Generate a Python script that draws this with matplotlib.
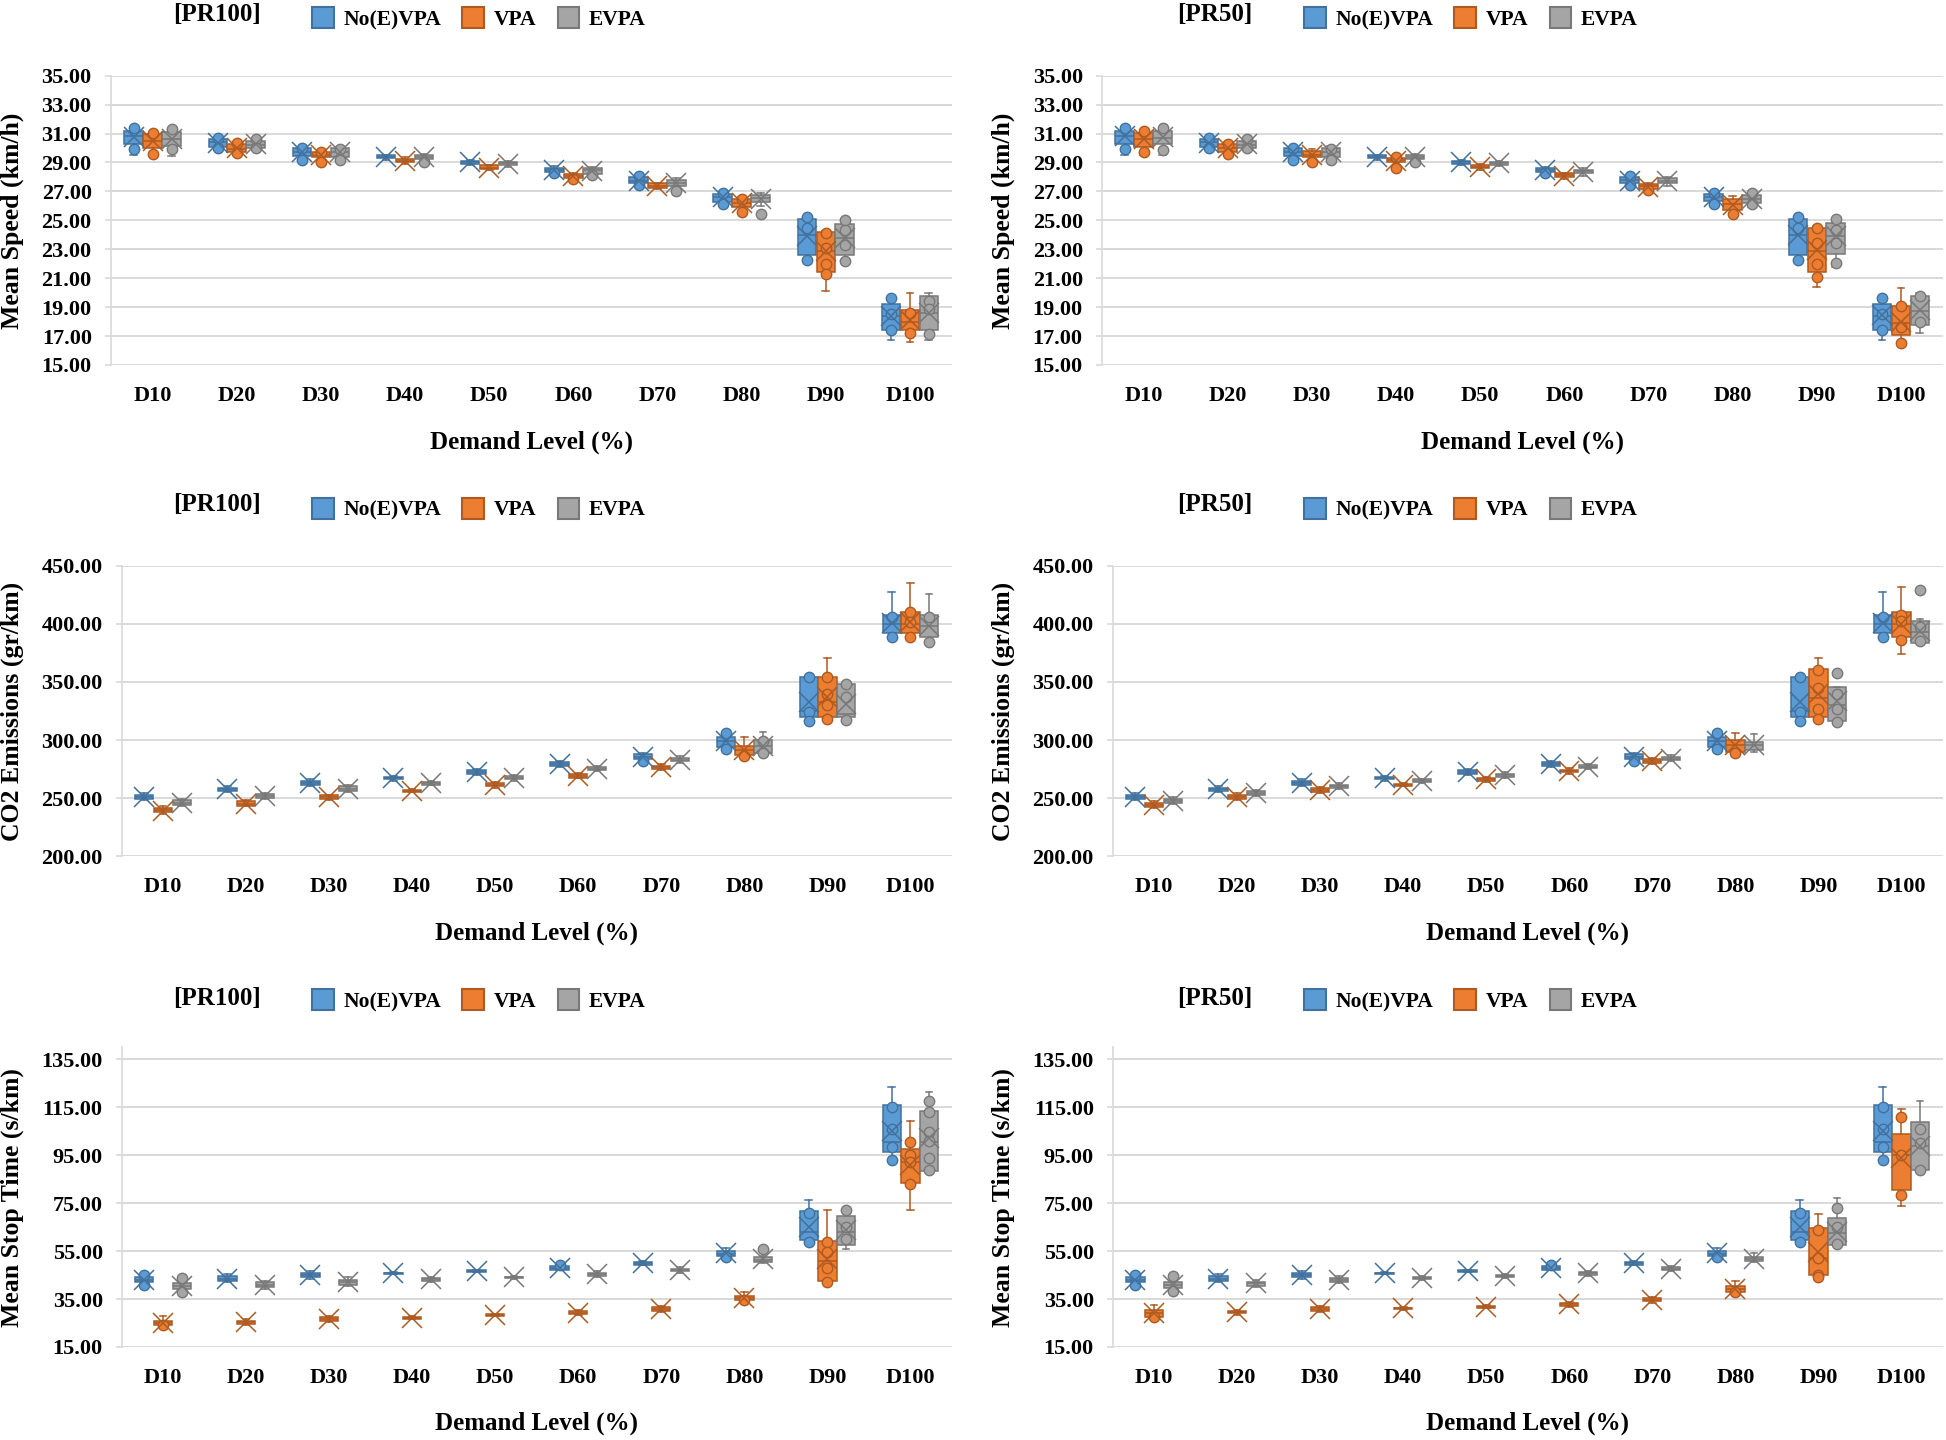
import matplotlib
matplotlib.use("Agg")
import matplotlib.pyplot as plt
from matplotlib.patches import Patch
from matplotlib.ticker import FormatStrFormatter

plt.rcParams['font.family'] = ['Liberation Serif', 'DejaVu Serif']
plt.rcParams['font.weight'] = 'bold'

CATEGORIES = ["D10", "D20", "D30", "D40", "D50", "D60", "D70", "D80", "D90", "D100"]
SERIES = ["No(E)VPA", "VPA", "EVPA"]
FILL = ["#5B9BD5", "#ED7D31", "#A5A5A5"]
EDGE = ["#41719C", "#AE5A21", "#787878"]

# box statistics per category: (whisker low, Q1, median, Q3, whisker high, mean)
SPEED_PR100_NOEVPA = [(29.55, 30.25, 30.8, 31.2, 31.45, 30.75), (29.95, 30.1, 30.4, 30.6, 30.75, 30.35),
                      (29.2, 29.45, 29.75, 30.0, 30.1, 29.7), (29.2, 29.3, 29.4, 29.5, 29.55, 29.4),
                      (28.85, 28.9, 29.0, 29.1, 29.15, 29.0), (28.25, 28.35, 28.5, 28.65, 28.75, 28.45),
                      (27.3, 27.55, 27.75, 28.0, 28.15, 27.75), (26.0, 26.3, 26.6, 26.85, 26.95, 26.6),
                      (22.2, 22.6, 24.0, 25.1, 25.25, 23.95), (16.7, 17.45, 18.4, 19.25, 19.7, 18.4)]
SPEED_PR100_VPA = [(29.5, 30.0, 30.5, 30.95, 31.05, 30.5), (29.55, 29.75, 29.95, 30.3, 30.4, 30.0),
                   (29.0, 29.35, 29.5, 29.75, 29.85, 29.5), (28.9, 29.0, 29.1, 29.25, 29.35, 29.1),
                   (28.5, 28.55, 28.65, 28.8, 28.85, 28.65), (27.75, 27.95, 28.05, 28.2, 28.3, 28.05),
                   (27.15, 27.25, 27.4, 27.55, 27.6, 27.4), (25.55, 25.9, 26.2, 26.5, 26.6, 26.2),
                   (20.1, 21.4, 22.9, 24.2, 24.25, 22.85), (16.6, 17.4, 18.0, 18.8, 20.0, 18.1)]
SPEED_PR100_EVPA = [(29.48, 30.17, 30.6, 31.13, 31.35, 30.65), (29.9, 30.0, 30.2, 30.5, 30.7, 30.3),
                    (29.15, 29.35, 29.7, 30.0, 30.1, 29.7), (28.95, 29.25, 29.35, 29.5, 29.6, 29.35),
                    (28.7, 28.8, 28.95, 29.05, 29.1, 28.9), (28.0, 28.2, 28.45, 28.6, 28.7, 28.4),
                    (27.0, 27.4, 27.6, 27.8, 27.9, 27.55), (26.0, 26.3, 26.55, 26.75, 26.9, 26.45),
                    (22.2, 22.6, 23.8, 24.75, 25.0, 23.8), (16.7, 17.4, 18.6, 19.75, 19.95, 18.6)]

SPEED_PR50_NOEVPA = [(29.55, 30.25, 30.8, 31.2, 31.45, 30.8), (29.95, 30.1, 30.4, 30.6, 30.75, 30.35),
                     (29.2, 29.45, 29.75, 30.0, 30.1, 29.7), (29.2, 29.3, 29.4, 29.5, 29.55, 29.4),
                     (28.85, 28.9, 29.0, 29.1, 29.15, 29.0), (28.3, 28.35, 28.5, 28.6, 28.7, 28.5),
                     (27.4, 27.55, 27.8, 28.0, 28.15, 27.75), (26.0, 26.35, 26.6, 26.85, 26.95, 26.6),
                     (22.2, 22.6, 24.0, 25.1, 25.25, 24.0), (16.7, 17.45, 18.4, 19.25, 19.7, 18.45)]
SPEED_PR50_VPA = [(29.5, 30.05, 30.6, 31.05, 31.15, 30.6), (29.55, 29.7, 30.0, 30.3, 30.45, 30.0),
                  (29.0, 29.35, 29.5, 29.8, 29.9, 29.5), (28.6, 29.0, 29.15, 29.3, 29.4, 29.1),
                  (28.5, 28.6, 28.7, 28.8, 28.9, 28.7), (27.85, 28.0, 28.15, 28.25, 28.3, 28.1),
                  (27.05, 27.2, 27.35, 27.5, 27.6, 27.3), (25.45, 25.75, 26.1, 26.45, 26.7, 26.05),
                  (20.4, 21.45, 22.9, 24.5, 24.6, 22.95), (16.5, 17.1, 17.9, 19.1, 20.3, 18.0)]
SPEED_PR50_EVPA = [(29.5, 30.25, 30.7, 31.15, 31.35, 30.75), (29.9, 30.0, 30.2, 30.5, 30.7, 30.3),
                   (29.15, 29.4, 29.75, 30.0, 30.15, 29.7), (28.95, 29.25, 29.35, 29.5, 29.6, 29.35),
                   (28.75, 28.85, 28.95, 29.05, 29.1, 28.95), (28.1, 28.25, 28.4, 28.5, 28.6, 28.35),
                   (27.35, 27.55, 27.7, 27.9, 28.0, 27.7), (25.95, 26.2, 26.5, 26.75, 26.95, 26.5),
                   (21.75, 22.7, 23.9, 24.85, 25.1, 23.9), (17.2, 17.75, 18.7, 19.75, 19.95, 18.8)]

CO2_PR100_NOEVPA = [(248, 249, 251, 253, 254, 251), (255, 256, 257.5, 259, 260, 257.5),
                    (260, 261, 263, 265, 266, 263), (265, 266, 267, 268.5, 269, 267),
                    (270, 271, 272.5, 274, 275, 272.5), (277, 278, 279, 281, 282, 279),
                    (282, 283.5, 285.5, 287.5, 288.5, 285.5), (292, 294, 299, 303, 306, 299),
                    (316, 320, 325, 354.5, 355, 333), (388, 392.5, 400, 408, 428, 401)]
CO2_PR100_VPA = [(236, 237.5, 239.5, 241.5, 243, 239), (243, 243.5, 245, 247, 248, 245),
                 (248, 249, 251, 252.5, 253, 250.5), (255, 255.5, 256, 257, 257.5, 256),
                 (259, 260, 261, 263, 264, 261.5), (267, 267.5, 269, 270.5, 271.5, 269),
                 (274, 275, 276.5, 278, 279, 276.5), (285, 287, 291, 295, 302.5, 291.5),
                 (318, 320, 333, 354, 371, 337), (388, 392.5, 400, 410.5, 435.5, 402)]
CO2_PR100_EVPA = [(243, 244, 246, 248, 249, 246), (249, 250, 252, 253.5, 254, 252),
                  (255, 256, 258, 260, 261, 258), (261, 261.5, 262.5, 264, 264.5, 262.5),
                  (265, 266, 267.5, 269, 270, 267.5), (273, 274, 275, 276.5, 277.5, 275),
                  (280, 281.5, 283, 284.5, 286, 283), (288, 289, 295, 300, 307, 295),
                  (316, 320, 322, 348.5, 349, 331), (384, 388.5, 398, 408, 426, 398)]

CO2_PR50_NOEVPA = [(248, 249, 251, 253, 254, 251), (255, 256, 257.5, 259, 260, 257.5),
                   (260, 261, 263, 265, 266, 263), (265, 266, 267, 268.5, 269, 267),
                   (270, 271, 272.5, 274, 275, 272.5), (277, 278, 279, 281, 282, 279),
                   (282, 283.5, 285.5, 287.5, 288.5, 285.5), (292, 294, 299, 303, 306, 299),
                   (316, 320, 325, 354.5, 355, 333), (388, 392.5, 400, 408, 428, 401)]
CO2_PR50_VPA = [(241, 242, 244, 246, 247, 244), (248, 249, 251, 253, 254, 251),
                (254, 255, 257, 258.5, 259.5, 257), (260, 260.5, 261, 262, 262.5, 261),
                (264, 265, 266, 267.5, 268.5, 266), (271, 272, 273, 274.5, 275.5, 273),
                (279.5, 280.5, 282, 283.5, 284.5, 282), (288, 290, 295.5, 300, 306, 295.5),
                (318, 320, 336, 361.5, 371, 340), (374, 388.5, 400, 410.5, 432, 400)]
CO2_PR50_EVPA = [(245, 246, 247.5, 249.5, 250.5, 247.5), (252, 253, 254.5, 256, 257, 254.5),
                 (257.5, 258.5, 260, 261.5, 262.5, 260), (263, 263.5, 264.5, 266, 266.5, 264.5),
                 (267.5, 268.5, 269.5, 271, 272, 269.5), (275, 275.5, 277, 278.5, 279.5, 277),
                 (281.5, 282.5, 284, 285.5, 287, 284), (290, 291, 296, 298, 305, 296),
                 (314, 316, 330, 345.8, 346, 334), (383, 384, 393, 402.5, 404, 394)]

STOP_PR100_NOEVPA = [(40.5, 42, 43, 44, 45.5, 43), (42, 42.5, 43.5, 44.5, 45.5, 43.5),
                     (43.5, 44, 45, 46, 46.5, 45), (45.3, 45.5, 45.7, 46, 46.2, 45.8),
                     (46.2, 46.4, 46.7, 47, 47.3, 46.7), (47, 47.3, 48, 48.6, 49.5, 48.1),
                     (49, 49.3, 49.9, 50.5, 51, 49.9), (52.5, 53, 53.8, 55, 56.2, 54),
                     (58.5, 59.5, 63, 71.7, 76.5, 65), (93, 96.5, 100.5, 116, 123.3, 105)]
STOP_PR100_VPA = [(23, 24, 25, 26, 28, 25), (24, 24.5, 25.3, 26, 26.5, 25.3),
                  (25.5, 26, 26.7, 27.5, 28, 26.7), (26.5, 26.8, 27.2, 27.6, 28, 27.2),
                  (27.8, 28, 28.3, 28.6, 28.9, 28.3), (28.3, 28.7, 29.3, 29.9, 30.3, 29.3),
                  (29.8, 30.2, 30.8, 31.5, 32, 30.8), (34, 34.5, 35.3, 36.3, 38, 35.5),
                  (42, 42.5, 51, 59.2, 72, 51.5), (72, 83.5, 92, 97.5, 109.3, 91)]
STOP_PR100_EVPA = [(37.5, 39, 40.5, 41.5, 43.5, 40.5), (39, 40, 41, 42, 42.5, 41),
                   (40.5, 41, 42, 43, 44, 42.2), (42.3, 42.7, 43.2, 43.7, 44, 43.2),
                   (43.3, 43.6, 44, 44.4, 44.7, 44), (44.3, 44.7, 45.3, 46, 46.5, 45.3),
                   (46, 46.5, 47.1, 47.7, 48.2, 47.1), (50, 50.5, 51.3, 52.5, 53, 51.5),
                   (56, 57.5, 63, 69.8, 72.2, 64), (88, 88.5, 100.5, 113.6, 121.5, 102)]

STOP_PR50_NOEVPA = [(40.5, 42, 43, 44, 45.5, 43), (42, 42.5, 43.5, 44.5, 45.5, 43.5),
                    (43.5, 44, 45, 46, 46.5, 45), (45.3, 45.5, 45.7, 46, 46.2, 45.8),
                    (46.2, 46.4, 46.7, 47, 47.3, 46.7), (47, 47.3, 48, 48.6, 49.5, 48.1),
                    (49, 49.3, 49.9, 50.5, 51, 49.9), (52.5, 53, 53.8, 55, 56.2, 54),
                    (58.5, 59.5, 63, 71.7, 76.5, 65), (93, 96.5, 100.5, 116, 123.3, 105)]
STOP_PR50_VPA = [(27, 27.5, 29, 30.3, 32.5, 29), (28.5, 29, 29.4, 30, 30.5, 29.4),
                 (29.7, 30.2, 30.7, 31.5, 32, 30.7), (30.6, 30.8, 31.1, 31.4, 31.7, 31.1),
                 (31.2, 31.4, 31.8, 32.2, 32.5, 31.8), (31.8, 32.2, 32.8, 33.4, 33.9, 32.8),
                 (33.5, 34, 34.6, 35.3, 36, 34.6), (37.5, 37.8, 39, 40.5, 42.5, 39.2),
                 (44, 45, 52, 64.5, 70.5, 54.5), (73.8, 80.5, 95, 103.7, 114.3, 94)]
STOP_PR50_EVPA = [(38.5, 39.5, 41, 42, 45, 41), (40, 40.5, 41.5, 42.3, 43, 41.5),
                  (41.5, 42, 42.9, 43.8, 44.5, 42.9), (43, 43.4, 43.9, 44.3, 44.6, 43.9),
                  (43.8, 44.1, 44.6, 45.1, 45.4, 44.6), (44.8, 45.1, 45.7, 46.3, 46.8, 45.7),
                  (46.5, 47, 47.5, 48.2, 48.7, 47.5), (50.3, 50.8, 51.6, 52.5, 54, 51.7),
                  (57, 57.5, 62.5, 68.7, 77, 63), (88, 88.8, 99, 109, 117.6, 99)]

# visible data points (inner points / outliers) per category
SPEED_PR100_PTS = [
    [[31.4, 29.9], [30.7, 30.0], [30.0, 29.2], [], [], [28.3], [28.1, 27.45], [26.9, 26.1], [25.2, 24.5, 22.25], [19.65, 18.5, 17.4]],
    [[31.05, 29.6], [30.35, 29.65], [29.7, 29.05], [], [], [27.85], [], [26.5, 25.6], [24.1, 23.1, 22.0, 21.3], [18.6, 17.2]],
    [[31.3, 29.9], [30.65, 30.0], [29.95, 29.15], [29.0], [], [28.15], [27.05], [25.45], [25.0, 24.3, 23.3, 22.2], [19.4, 18.9, 17.15]],
]
SPEED_PR50_PTS = [
    [[31.4, 29.9], [30.7, 30.0], [30.0, 29.2], [], [], [28.3], [28.1, 27.45], [26.9, 26.1], [25.2, 24.5, 22.25], [19.65, 18.5, 17.4]],
    [[31.15, 29.7], [30.3, 29.6], [29.05], [29.35, 28.65], [], [], [27.1], [25.45], [24.45, 23.4, 22.0, 21.1], [19.1, 17.6, 16.55]],
    [[31.35, 29.85], [30.65, 30.0], [29.95, 29.15], [29.0], [], [], [], [26.9, 26.1], [25.1, 24.35, 23.4, 22.05], [19.8, 18.0]],
]
CO2_PR100_PTS = [
    [[], [], [], [], [], [], [282], [306, 292], [354.5, 324.5, 316], [406, 389]],
    [[], [], [], [], [], [], [], [286], [354, 340, 330, 318.5], [410, 402, 389]],
    [[], [], [], [], [], [], [], [289, 299], [348.5, 337, 317], [406, 384.5]],
]
CO2_PR50_PTS = [
    [[], [], [], [], [], [], [282], [306, 292], [354.5, 324.5, 316], [406, 389]],
    [[], [], [], [], [], [], [], [288.5], [360, 345, 327, 318.5], [408, 403, 386]],
    [[], [], [], [], [], [], [], [], [357.5, 340, 327, 315.5], [429.5, 397, 385]],
]
STOP_PR100_PTS = [
    [[45, 41], [], [], [], [], [49], [], [52.5], [70.7, 58.9], [115, 106, 98.5, 93]],
    [[24], [], [], [], [], [], [], [34.5], [58.9, 54.5, 48.1, 42], [100.6, 95, 92, 83]],
    [[43.6, 38.1], [], [], [], [], [], [], [56], [72.1, 65.2, 60], [117.6, 113, 104.6, 101, 94, 88.8]],
]
STOP_PR50_PTS = [
    [[45, 41], [], [], [], [], [49], [], [52.5], [70.7, 58.9], [115, 106, 98.5, 93]],
    [[27.5], [], [], [], [], [], [], [38], [63.8, 52, 45, 44], [111, 95, 78.4]],
    [[44.5, 38.5], [], [], [], [], [], [], [], [73.1, 65, 57.8], [106, 100, 88.8]],
]

PANELS = [
    ("[PR100]", "Mean Speed (km/h)", (15, 35), list(range(15, 36, 2)),
     [SPEED_PR100_NOEVPA, SPEED_PR100_VPA, SPEED_PR100_EVPA], SPEED_PR100_PTS),
    ("[PR50]", "Mean Speed (km/h)", (15, 35), list(range(15, 36, 2)),
     [SPEED_PR50_NOEVPA, SPEED_PR50_VPA, SPEED_PR50_EVPA], SPEED_PR50_PTS),
    ("[PR100]", "CO2 Emissions (gr/km)", (200, 450), list(range(200, 451, 50)),
     [CO2_PR100_NOEVPA, CO2_PR100_VPA, CO2_PR100_EVPA], CO2_PR100_PTS),
    ("[PR50]", "CO2 Emissions (gr/km)", (200, 450), list(range(200, 451, 50)),
     [CO2_PR50_NOEVPA, CO2_PR50_VPA, CO2_PR50_EVPA], CO2_PR50_PTS),
    ("[PR100]", "Mean Stop Time (s/km)", (15, 140), list(range(15, 136, 20)),
     [STOP_PR100_NOEVPA, STOP_PR100_VPA, STOP_PR100_EVPA], STOP_PR100_PTS),
    ("[PR50]", "Mean Stop Time (s/km)", (15, 140), list(range(15, 136, 20)),
     [STOP_PR50_NOEVPA, STOP_PR50_VPA, STOP_PR50_EVPA], STOP_PR50_PTS),
]

W, H = 1946, 1440
# axes boxes in pixels: left, right, top, bottom
BOXES = [
    (110.5, 952, 75.7, 365), (1101.5, 1943, 75.7, 365),
    (121.5, 952, 566, 856), (1112.6, 1943, 566, 856),
    (121.5, 952, 1047.3, 1347), (1112.6, 1943, 1047.3, 1347),
]
HEADER_Y = [(15, 18.5), (15, 18.5), (505, 509), (505, 509), (999, 1000.5), (999, 1000.5)]
TITLE_X = [217, 1215, 217, 1215, 217, 1215]
LEGEND_X = [312, 1304, 312, 1304, 312, 1304]
YLABEL_X = [12.5, 1003, 12.5, 1003, 12.5, 1003]
XLABEL_Y = [442, 442, 933, 933, 1423, 1423]

OFFS = [-0.225, 0.0, 0.225]
BOXW = 0.22
GRID = "#D9D9D9"

fig = plt.figure(figsize=(W / 100, H / 100), dpi=100)

for k, (title, ylab, ylim, yticks, stats3, pts3) in enumerate(PANELS):
    l, r, t, b = BOXES[k]
    ax = fig.add_axes([l / W, 1 - b / H, (r - l) / W, (b - t) / H])
    for s in range(3):
        bxs = []
        for (lo, q1, med, q3, hi, mean) in stats3[s]:
            bxs.append(dict(whislo=lo, q1=q1, med=med, q3=q3, whishi=hi,
                            mean=mean, fliers=[], label=""))
        pos = [i + OFFS[s] for i in range(len(CATEGORIES))]
        lp = dict(color=EDGE[s], linewidth=1.1)
        ax.bxp(bxs, positions=pos, widths=BOXW, showmeans=True, showfliers=False,
               patch_artist=True, capwidths=0.08, manage_ticks=False,
               boxprops=dict(facecolor=FILL[s], edgecolor=EDGE[s], linewidth=1.1),
               medianprops=lp, whiskerprops=lp, capprops=lp,
               meanprops=dict(marker="x", markeredgecolor=EDGE[s], markersize=15,
                              markeredgewidth=1.1, zorder=5))
        for i, vals in enumerate(pts3[s]):
            if vals:
                ax.plot([pos[i]] * len(vals), vals, "o", ms=7.5, mfc=FILL[s],
                        mec=EDGE[s], mew=1.0, zorder=4, linestyle="none")
    ax.set_xlim(-0.5, len(CATEGORIES) - 0.5)
    ax.set_ylim(*ylim)
    ax.set_yticks(yticks)
    ax.yaxis.set_major_formatter(FormatStrFormatter("%.2f"))
    ax.set_xticks(range(len(CATEGORIES)))
    ax.set_xticklabels(CATEGORIES)
    ax.grid(axis="y", color=GRID, linewidth=1.4)
    ax.set_axisbelow(True)
    for sp in ("top", "right", "bottom"):
        ax.spines[sp].set_visible(False)
    ax.spines["left"].set_color(GRID)
    ax.spines["left"].set_linewidth(1.2)
    ax.tick_params(axis="y", direction="out", length=4.5, width=1.2, color=GRID,
                   pad=9, labelsize=16)
    ax.tick_params(axis="x", length=0, pad=15, labelsize=16)
    for lab in ax.get_xticklabels() + ax.get_yticklabels():
        lab.set_fontweight("bold")

    # header: title and legend
    ty, ly = HEADER_Y[k]
    fig.text(TITLE_X[k] / W, 1 - ty / H, title, ha="center", va="center",
             fontsize=18, fontweight="bold")
    handles = [Patch(facecolor=FILL[s], edgecolor=EDGE[s], linewidth=1.5) for s in range(3)]
    fig.legend(handles, SERIES, loc="center left",
               bbox_to_anchor=(LEGEND_X[k] / W, 1 - ly / H), ncol=3, frameon=False,
               handlelength=1.0, handleheight=1.15,
               handletextpad=0.45, columnspacing=1.0, borderpad=0, borderaxespad=0,
               prop=dict(weight="bold", size=15.5))
    fig.text(YLABEL_X[k] / W, 1 - ((t + b) / 2) / H, ylab, rotation=90,
             ha="center", va="center", fontsize=18.5, fontweight="bold")
    fig.text(((l + r) / 2) / W, 1 - XLABEL_Y[k] / H, "Demand Level (%)",
             ha="center", va="center", fontsize=18, fontweight="bold")

fig.savefig("out.png", dpi=100)
